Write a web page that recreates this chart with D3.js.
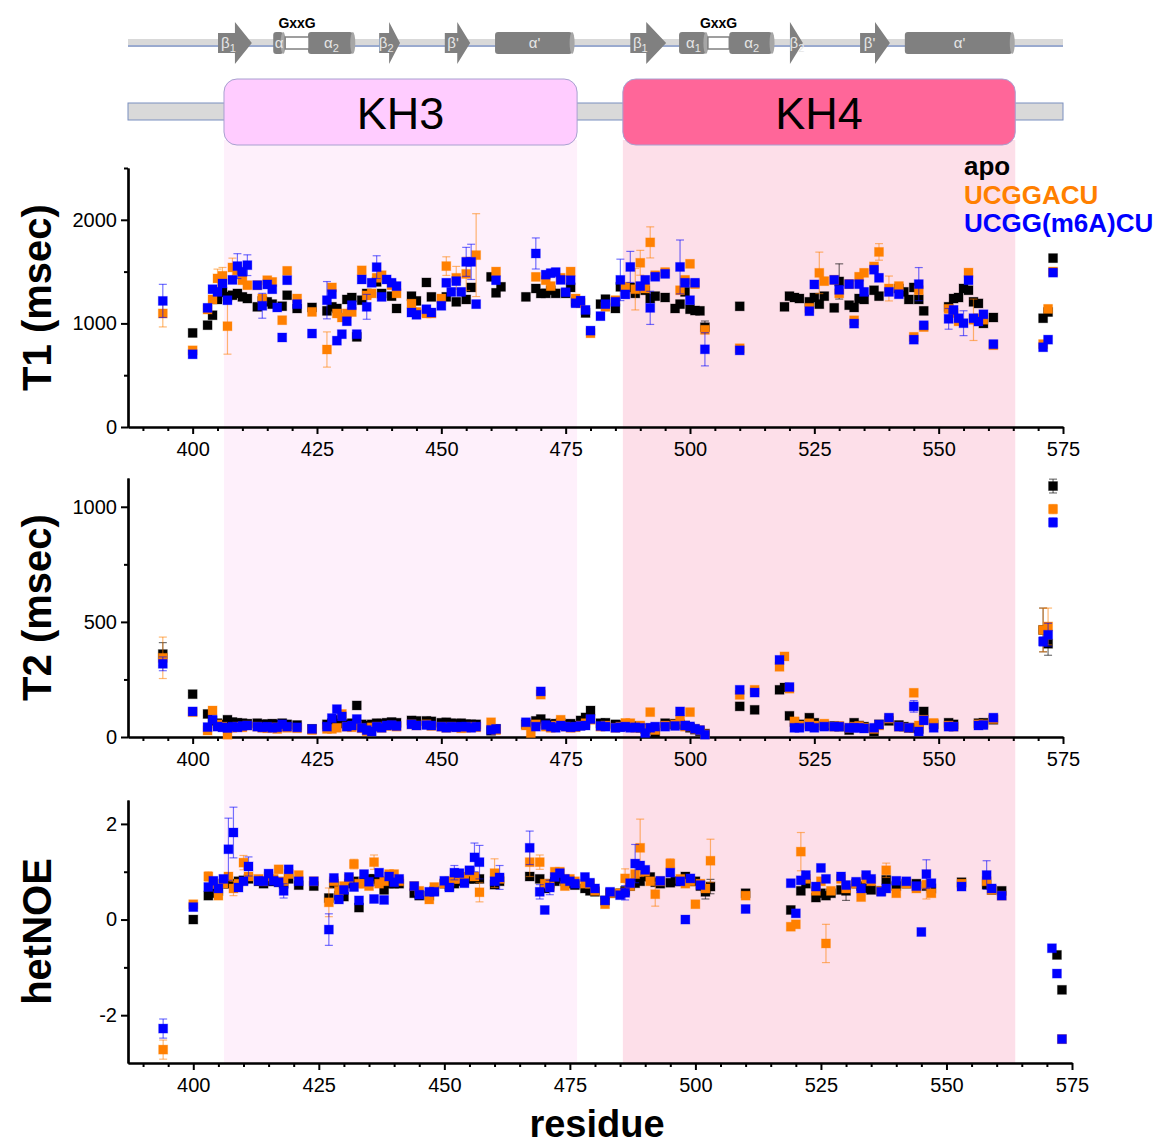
<!DOCTYPE html>
<html>
<head>
<meta charset="utf-8">
<script src="https://cdn.jsdelivr.net/npm/d3@7/dist/d3.min.js"></script>
<style>
  body { margin: 0; background: #fff; }
  text { font-family: "Liberation Sans", Arial, sans-serif; }
</style>
</head>
<body>
<svg id="chart" width="1166" height="1147"></svg>
<script>
// ---- data: [residue, value, error?] ----
var seriesNames = ['apo', 'UCGGACU', 'UCGG(m6A)CU'];
var seriesColors = ['#000000', '#ff8000', '#0000ff'];

var t1Apo = [[400,908],[403,983],[404,1079],[405,1231],[406,1300],[407,1260],[408,1272],[409,1289],[410,1256],[411,1240],[413,1160],[414,1217],[415,1208],[416,1186],[418,1166],[419,1272],[421,1144],[424,1154],[427,1121],[428,1160],[429,1144],[431,1231],[432,1250],[433,870],[434,1224],[435,1289],[437,1401],[438,1289],[440,1263],[441,1144],[444,1263],[445,1217],[447,1395],[448,1256],[451,1256],[453,1208],[455,1231],[456,1347],[460,1449],[461,1295],[462,1353],[467,1256],[469,1337],[470,1289],[471,1290],[472,1320],[473,1290],[475,1290],[476,1347],[477,1208],[479,1101],[482,1186],[483,1234],[485,1144],[486,1353],[488,1347],[489,1290],[491,1320],[492,1240],[493,1263],[495,1250],[497,1144],[498,1186],[499,1304],[500,1137],[501,1124],[502,1121],[503,963,60],[510,1165],[519,1160],[520,1263],[521,1250],[522,1240],[524,1208],[525,1250],[526,1186],[527,1263],[529,1150],[530,1405,170],[532,1176],[533,1154],[534,1240],[535,1231],[537,1320],[538,1263],[542,1337],[543,1304],[544,1231],[545,1347],[546,1231],[547,1121],[552,1160],[553,1240],[554,1250],[555,1337],[556,1320],[557,1208],[558,1193],[559,1000],[561,1057],[571,1050],[572,1110],[573,1630]];
var t1Ucg = [[394,1096,130],[400,740],[403,1134],[404,1231],[405,1434,90],[406,1460,80],[407,973,270],[408,1540,90],[409,1512],[410,1417],[411,1369],[413,1369],[414,1240],[415,1417],[416,1400],[418,1031],[419,1507],[421,1240],[424,1111],[427,748,170],[428,1347],[429,1096],[430,1057],[431,1096],[432,1110],[434,1512],[435,1270],[436,1290],[437,1440],[438,1465],[440,1369],[441,1290],[444,1190],[445,1110],[447,1096],[448,1096],[450,1240],[451,1553,90],[453,1440,110],[455,1478,160],[457,1659,400],[461,1500],[469,1449],[471,1417],[472,1360],[474,1440],[476,1500],[477,1240],[478,1195],[480,905],[483,1160],[485,1224],[487,1353],[489,1330,200],[490,1585,120],[491,1337],[492,1782,150],[493,1465],[495,1495],[498,1320],[499,1420],[500,1575],[501,1379],[503,938],[510,760],[524,1150],[526,1488,200],[527,1408],[529,1420],[530,1290],[532,1380],[533,1030],[534,1450],[535,1488],[537,1550],[538,1690,80],[540,1337,120],[542,1360],[545,870],[546,1320],[547,965],[552,1140],[553,1100],[554,1020],[556,1490],[557,1035,200],[558,1050],[559,1035],[561,790],[571,800],[572,1140],[573,1500]];
var t1M6a = [[394,1217,160],[400,702],[403,1150],[404,1330],[405,1304],[406,1385],[407,1224],[408,1420],[409,1553,120],[410,1498],[411,1562,100],[413,1369],[414,1170,120],[415,1376],[416,1330],[417,1154],[418,864],[419,1417],[421,1186],[424,902],[427,1224,180],[428,1282],[429,833],[430,896],[431,1021],[432,1176],[433,896],[434,1424],[435,1160,120],[436,1392],[437,1543,110],[438,1256],[439,1424],[440,1392],[441,1360],[444,1105],[445,1083],[447,1137],[448,1105],[450,1170],[451,1392],[452,1304],[453,1408],[454,1304],[455,1594,140],[456,1594,170],[457,1186],[461,1417],[469,1675,150],[471,1470],[472,1485],[473,1495],[474,1420],[475,1301],[476,1417],[477,1195],[478,1220],[479,1130],[480,930],[482,1070],[483,1186],[485,1208],[486,1420,200],[487,1280],[488,1545,150],[490,1360],[491,1420],[492,1150,160],[493,1450],[495,1478],[498,1545,260],[499,1392],[500,1224],[501,1392],[503,750,160],[510,740],[524,1118],[525,1376],[529,1420],[530,1324],[532,1379],[533,998],[534,1379],[535,1304],[537,1518],[538,1440],[540,1304],[542,1282],[545,843],[546,1379,160],[547,982],[552,1044,100],[553,1130],[554,1050],[555,1002,120],[556,1417],[557,1050],[558,1018],[559,1088],[561,800],[571,770],[572,843],[573,1490]];

var t2Apo = [[394,360,50],[400,186],[403,100],[404,70],[405,60],[406,55],[407,75],[408,65],[409,62],[410,60],[411,58],[413,60],[414,55],[415,56],[416,58],[417,55],[418,60],[419,55],[421,52],[424,35],[427,55],[428,60],[429,75],[430,58],[431,55],[432,60],[433,137],[434,55],[435,50],[436,55],[437,60],[438,58],[439,62],[440,65],[441,62],[444,72],[445,70],[447,70],[448,68],[450,62],[451,64],[452,60],[453,58],[454,60],[455,56],[456,55],[457,55],[460,27],[461,35],[467,55],[469,70],[470,78],[471,60],[472,55],[473,58],[474,62],[475,55],[476,58],[477,50],[478,72],[479,85],[480,115],[482,60],[483,62],[485,55],[486,52],[487,50],[488,45],[489,48],[490,40],[491,35],[492,38],[493,18],[495,60],[496,55],[497,58],[498,55],[499,50],[500,40],[501,32],[502,25],[503,15],[510,133],[513,118],[518,205],[519,215],[520,92],[521,65],[522,55],[524,84],[525,62],[527,50],[529,48],[530,45],[532,30],[533,62],[534,50],[535,45],[537,24],[538,55],[540,70],[542,52],[543,45],[544,40],[545,40],[546,35],[547,111],[549,55],[552,62],[553,55],[558,60],[559,62],[561,75],[571,465,95],[572,405,50],[573,1090,30]];
var t2Ucg = [[394,344,90],[400,108],[403,28],[404,115],[405,55],[406,45],[407,10],[408,40],[409,45],[410,42],[411,50],[413,45],[414,40],[415,38],[416,42],[417,35],[418,45],[419,40],[421,38],[424,30],[427,35],[428,35],[429,40],[430,100],[431,45],[432,42],[433,50],[434,38],[435,25],[436,42],[437,45],[438,40],[439,48],[440,50],[441,45],[444,55],[445,50],[447,55],[448,48],[450,45],[451,40],[452,45],[453,42],[454,38],[455,40],[456,45],[457,42],[460,64],[461,30],[467,50],[468,17],[469,55],[470,184],[471,45],[472,40],[473,50],[474,75],[475,45],[476,40],[477,42],[478,50],[479,60],[480,75],[482,45],[483,50],[485,40],[486,45],[487,61],[488,60],[489,40],[490,50],[491,35],[492,108],[493,30],[495,50],[497,55],[498,75],[499,45],[500,108],[501,35],[502,30],[503,12],[510,183],[513,205],[518,305],[519,350,15],[520,210],[521,68],[522,50],[524,60],[525,50],[527,58],[529,45],[530,48],[532,40],[533,45],[534,48],[535,40],[537,35],[538,50],[540,80],[542,45],[544,40],[545,192,15],[546,50],[547,75],[549,61],[552,50],[553,45],[558,55],[559,55],[561,78],[571,465,95],[572,480,80],[573,990,20]];
var t2M6a = [[394,318,30],[400,111],[403,43],[404,75],[405,45],[406,42],[407,39],[408,45],[409,42],[410,48],[411,50],[413,45],[414,42],[415,45],[416,40],[417,42],[418,55],[419,45],[421,42],[424,35],[427,45],[428,82],[429,121],[430,89],[431,45],[432,50],[433,78],[434,40],[435,30],[436,24],[437,45],[438,40],[439,50],[440,52],[441,48],[444,55],[445,50],[447,52],[448,50],[450,45],[451,40],[452,45],[453,42],[454,45],[455,45],[456,40],[457,45],[460,31],[461,35],[467,64],[469,45],[470,198],[471,52],[472,45],[473,40],[474,50],[475,45],[476,42],[477,45],[478,48],[479,50],[480,78],[482,48],[483,45],[485,40],[486,42],[487,45],[488,40],[489,42],[490,40],[491,17],[492,40],[493,45],[495,45],[497,48],[498,111],[499,50],[500,46],[501,36],[502,30],[503,10],[510,205],[513,193],[518,335],[520,217],[521,40],[522,40],[524,45],[525,40],[527,45],[529,45],[530,45],[532,40],[533,40],[534,40],[535,37],[537,40],[538,54],[540,84],[542,45],[544,40],[545,133,25],[546,24],[547,72],[549,40],[552,45],[553,45],[558,50],[559,52],[561,84],[571,415,20],[572,444,50],[573,932,20]];

var noeApo = [[400,0.0],[403,0.5],[404,0.55],[405,0.6],[406,0.75],[407,0.75],[408,0.75],[409,0.8],[410,0.82],[411,0.85],[413,0.8],[414,0.75],[415,0.8],[416,0.8],[417,0.78],[418,0.75],[419,0.85],[421,0.72],[424,0.7],[427,0.45],[428,0.75],[429,0.5],[430,0.48],[431,0.75],[432,0.8],[433,0.25],[434,0.8],[435,0.85],[436,0.85],[437,0.8],[438,0.62],[439,0.75],[440,0.75],[441,0.75],[444,0.55],[445,0.5],[447,0.5],[448,0.6],[450,0.75],[451,0.7],[452,0.75],[453,0.8],[454,0.82],[455,0.85],[456,0.85],[457,0.85],[460,0.73],[461,0.8],[467,0.9],[469,0.85],[470,0.65],[471,0.75],[472,0.8],[473,0.85],[474,0.8],[475,0.75],[476,0.72],[478,0.65],[479,0.6],[480,0.58],[482,0.4],[483,0.55],[485,0.55],[486,0.6],[487,0.7],[488,0.76],[489,0.8],[490,0.9],[491,0.89],[492,0.78],[493,0.75],[495,0.77],[496,0.8],[497,0.8],[498,0.9],[499,0.8],[500,0.8],[501,0.7],[502,0.58,0.15],[503,0.69,0.15],[510,0.55],[519,0.2],[521,0.6],[522,0.75],[524,0.46],[525,0.55],[526,0.5],[527,0.55],[529,0.62],[530,0.6,0.2],[532,0.75],[533,0.7],[534,0.65],[535,0.62],[537,0.6],[538,0.83],[540,0.7],[542,0.75],[544,0.75],[546,0.7],[547,0.65],[553,0.78],[558,0.73],[559,0.62],[561,0.6],[572,-0.74],[573,-1.47]];
var noeUcg = [[394,-2.72,0.2],[400,0.32],[403,0.9,0.1],[404,0.75],[405,0.5],[406,0.75],[407,0.9],[408,0.65,0.15],[409,0.75],[410,1.19,0.15],[411,0.9],[413,0.85],[414,0.8],[415,0.9],[416,0.85],[417,1.05],[418,0.8],[419,0.95],[421,0.93],[424,0.8],[427,0.36,0.3],[428,0.8],[429,0.6],[430,0.7],[431,0.85],[432,1.16,0.1],[433,0.75],[434,0.75],[435,0.7],[436,1.2,0.15],[437,0.75],[438,0.8],[439,0.95],[440,0.95],[441,0.8],[444,0.7],[445,0.6],[447,0.42],[448,0.68],[450,0.75],[451,0.8],[452,0.85],[453,0.85],[454,0.9],[455,1.0],[456,0.9],[457,0.57,0.2],[460,0.97,0.3],[461,0.85],[467,1.2,0.3],[469,1.2,0.15],[470,0.75],[471,0.7],[472,1.0],[473,1.0],[474,0.7],[475,0.85],[476,0.8],[478,0.75],[479,0.75],[480,0.6],[482,0.32],[483,0.55],[485,0.55],[486,0.86,0.2],[487,0.7],[488,0.95],[489,1.5,0.6],[490,1.0],[491,0.8],[492,0.53,0.25],[493,0.8],[495,1.17,0.1],[497,0.85],[498,0.75],[499,0.8],[500,0.32],[501,0.75],[502,0.65],[503,1.23,0.45],[510,0.5],[519,-0.15],[520,-0.1],[521,1.42,0.4],[522,0.85],[524,0.6],[525,0.8],[526,-0.5,0.4],[527,0.6],[529,0.85],[530,0.65],[532,0.75],[533,0.47],[534,0.85],[535,0.8],[537,0.6],[538,1.03,0.15],[540,0.55],[542,0.75],[544,0.65],[546,0.73,0.3],[547,0.55],[553,0.75],[558,0.8],[559,0.62],[561,0.5],[573,-2.5]];
var noeM6a = [[394,-2.28,0.2],[400,0.26],[403,0.68],[404,0.81],[405,0.65],[406,0.85],[407,1.47,0.65],[408,1.82,0.53],[409,0.67],[410,0.8],[411,1.11,0.2],[413,0.81],[414,0.8],[415,0.96],[416,0.81],[417,0.78],[418,0.6,0.15],[419,1.05],[421,0.8],[424,0.8],[427,-0.21,0.33],[428,0.87],[429,0.42],[430,0.62],[431,0.89],[432,0.68],[433,0.4],[434,0.95],[435,0.79],[436,0.43],[437,0.98],[438,0.41],[439,0.9],[440,0.78],[441,0.85],[444,0.7],[445,0.52],[447,0.58],[448,0.58],[450,0.81],[451,0.67],[452,0.98,0.15],[453,0.97],[454,0.76],[455,1.03],[456,1.3,0.3],[457,1.2,0.35],[460,0.8],[461,0.88,0.25],[467,1.5,0.35],[469,0.58,0.15],[470,0.2],[471,0.67,0.15],[472,0.89],[473,0.97],[474,0.85],[475,0.8],[476,0.75],[478,0.89],[479,0.77],[480,0.65],[482,0.4],[483,0.58],[485,0.51],[486,0.56,0.15],[487,0.76],[488,1.17,0.4],[489,1.13],[490,1.04],[493,0.81],[495,0.98],[497,0.8],[498,0.0,0.08],[499,0.86],[501,0.72],[510,0.22],[519,0.76],[520,0.13],[521,0.82],[522,0.93],[524,0.69],[525,1.08],[526,0.85],[529,0.9],[530,0.72],[532,0.79],[533,0.65],[534,0.93],[535,0.85],[537,0.58],[538,0.65],[540,0.81],[542,0.8],[544,0.7],[545,-0.26],[546,0.95,0.3],[547,0.76],[553,0.69],[558,0.93,0.3],[559,0.65],[561,0.5],[571,-0.6],[572,-1.13],[573,-2.5]];

// domain boxes and secondary structure (residue units)
var domains = [
    { name: 'KH3', start: 406.3, end: 477.3, fill: '#ffccff', shade: '#fef0fb' },
    { name: 'KH4', start: 486.5, end: 565.4, fill: '#ff6699', shade: '#fddfe9' }
];
var strands = [
    { label: 'β', sub: '1', start: 405.1, head: 408.5, end: 411.9 },
    { label: 'β', sub: '2', start: 437.5, head: 439.5, end: 441.7 },
    { label: 'β\'', sub: '', start: 450.7, head: 453.2, end: 455.8 },
    { label: 'β', sub: '1', start: 488.0, head: 491.2, end: 495.2 },
    { label: 'β', sub: '2', start: 520.1, head: 520.1, end: 522.7 },
    { label: 'β\'', sub: '', start: 534.2, head: 537.2, end: 540.2 }
];
var helices = [
    { label: 'α', sub: '', start: 416.2, end: 418.6 },
    { label: 'α', sub: '2', start: 423.2, end: 432.6 },
    { label: 'α\'', sub: '', start: 460.8, end: 476.7 },
    { label: 'α', sub: '1', start: 497.8, end: 503.6 },
    { label: 'α', sub: '2', start: 507.9, end: 516.9 },
    { label: 'α\'', sub: '', start: 543.2, end: 565.2 }
];
var loops = [
    { label: 'GxxG', start: 418.6, end: 423.4 },
    { label: 'GxxG', start: 503.6, end: 507.9 }
];

var xMajor = [400, 425, 450, 475, 500, 525, 550, 575];
var xMinor = d3.range(390, 576, 5).filter(function(d) { return d % 25 !== 0; });

var panels = [
    { title: 'T1 (msec)', top: 168, bottom: 427, domain: [0, 2500], major: [0, 1000, 2000], minor: [500, 1500, 2500], right: 1063, err: 35, data: [t1Apo, t1Ucg, t1M6a] },
    { title: 'T2 (msec)', top: 478, bottom: 737, domain: [0, 1125], major: [0, 500, 1000], minor: [250, 750], right: 1063, err: 7, data: [t2Apo, t2Ucg, t2M6a] },
    { title: 'hetNOE', top: 800, bottom: 1063, domain: [-3, 2.5], major: [-2, 0, 2], minor: [-1, 1], right: 1072, err: 0.06, data: [noeApo, noeUcg, noeM6a] }
];

var svg = d3.select('#chart');
var xTop = d3.scaleLinear().domain([387, 575]).range([128, 1063]);

// background shading of the domains
domains.forEach(function(d) {
    svg.append('rect')
        .attr('x', xTop(d.start)).attr('y', 140)
        .attr('width', xTop(d.end) - xTop(d.start)).attr('height', 1063 - 140)
        .attr('fill', d.shade);
});

// ---- domain diagram ----
var diag = svg.append('g');
diag.append('rect').attr('x', 128).attr('y', 39).attr('width', 935).attr('height', 8).attr('fill', '#d9d9d9');
diag.append('line').attr('x1', 128).attr('x2', 1063).attr('y1', 46).attr('y2', 46).attr('stroke', '#5a7bc4').attr('stroke-width', 1);

diag.append('rect').attr('x', 128).attr('y', 103).attr('width', 935).attr('height', 17)
    .attr('fill', '#d9d9d9').attr('stroke', '#7b8fbf').attr('stroke-width', 1);

domains.forEach(function(d) {
    var x0 = xTop(d.start), x1 = xTop(d.end);
    diag.append('rect').attr('x', x0).attr('y', 79).attr('width', x1 - x0).attr('height', 66)
        .attr('rx', 13).attr('fill', d.fill).attr('stroke', '#a8a0d0').attr('stroke-width', 1);
    diag.append('text').attr('x', (x0 + x1) / 2).attr('y', 129)
        .attr('text-anchor', 'middle').attr('font-size', 45).attr('fill', '#000').text(d.name);
});

var cy = 43;
function addLabel(x, label, sub) {
    var t = diag.append('text').attr('x', x).attr('y', cy + 5).attr('text-anchor', 'middle')
        .attr('font-size', 15).attr('fill', '#e6e6e6').text(label);
    if (sub) {
        t.append('tspan').attr('font-size', 11).attr('dy', 4).text(sub);
    }
}

strands.forEach(function(s) {
    var a = xTop(s.start), h = xTop(s.head), b = xTop(s.end);
    var pts = [[a, cy - 10], [h, cy - 10], [h, cy - 21], [b, cy], [h, cy + 21], [h, cy + 10], [a, cy + 10]];
    diag.append('path').attr('d', d3.line()(pts) + 'Z').attr('fill', '#808080');
    addLabel((a + Math.max(h, a + 10)) / 2 + 2, s.label, s.sub);
});

helices.forEach(function(s) {
    var a = xTop(s.start), b = xTop(s.end);
    diag.append('rect').attr('x', a).attr('y', cy - 11).attr('width', b - a - 2).attr('height', 22)
        .attr('rx', 3).attr('fill', '#808080');
    diag.append('ellipse').attr('cx', b - 2).attr('cy', cy).attr('rx', 2.5).attr('ry', 11).attr('fill', '#a6a6a6');
    addLabel((a + b) / 2, s.label, s.sub);
});

loops.forEach(function(s) {
    var a = xTop(s.start), b = xTop(s.end);
    diag.append('rect').attr('x', a).attr('y', cy - 6).attr('width', b - a).attr('height', 12)
        .attr('fill', '#fff').attr('stroke', '#808080').attr('stroke-width', 1.5);
    diag.append('text').attr('x', (a + b) / 2).attr('y', 28).attr('text-anchor', 'middle')
        .attr('font-size', 14).attr('font-weight', 'bold').attr('fill', '#000').text(s.label);
});

// ---- panels ----
panels.forEach(function(p) {
    var x = d3.scaleLinear().domain([387, 575]).range([128, p.right]);
    var y = d3.scaleLinear().domain(p.domain).range([p.bottom, p.top]);
    var g = svg.append('g');

    // x axis
    var xa = g.append('g').attr('transform', 'translate(0,' + p.bottom + ')');
    xa.call(d3.axisBottom(x).tickValues(xMajor).tickSize(7).tickSizeOuter(0).tickPadding(8));
    xa.append('g').call(d3.axisBottom(x).tickValues(xMinor).tickSize(4).tickSizeOuter(0).tickFormat(''));

    // y axis, plain number labels (no thousands separator, hyphen minus)
    var ya = g.append('g').attr('transform', 'translate(128,0)');
    ya.call(d3.axisLeft(y).tickValues(p.major).tickSize(7).tickSizeOuter(0).tickPadding(4)
        .tickFormat(function(d) { return String(d); }));
    ya.append('g').call(d3.axisLeft(y).tickValues(p.minor).tickSize(4).tickSizeOuter(0).tickFormat(''));

    g.selectAll('.domain').attr('stroke', '#000').attr('stroke-width', 2.2);
    g.selectAll('.tick line').attr('stroke', '#000').attr('stroke-width', 2);
    g.selectAll('.tick text').attr('font-size', 20).attr('fill', '#000')
        .style('font-family', '"Liberation Sans", Arial, sans-serif');

    // title
    g.append('text')
        .attr('transform', 'translate(51,' + (p.top + p.bottom) / 2 + ') rotate(-90)')
        .attr('text-anchor', 'middle').attr('font-size', 40).attr('font-weight', 'bold')
        .text(p.title);

    // series: black, orange, blue on top
    p.data.forEach(function(rows, si) {
        var color = seriesColors[si];
        var s = g.append('g');
        rows.forEach(function(r) {
            var cx = x(r[0]), vy = y(r[1]);
            var e = r.length > 2 ? r[2] : p.err;
            var y0 = y(r[1] - e), y1 = y(r[1] + e);
            s.append('line').attr('x1', cx).attr('x2', cx).attr('y1', y0).attr('y2', y1)
                .attr('stroke', color).attr('stroke-opacity', 0.55).attr('stroke-width', 1.2);
            [y0, y1].forEach(function(yy) {
                s.append('line').attr('x1', cx - 4).attr('x2', cx + 4).attr('y1', yy).attr('y2', yy)
                    .attr('stroke', color).attr('stroke-opacity', 0.55).attr('stroke-width', 1.2);
            });
            s.append('rect').attr('x', cx - 4.5).attr('y', vy - 4.5).attr('width', 9).attr('height', 9)
                .attr('fill', color).attr('stroke', color).attr('stroke-opacity', 0.3).attr('stroke-width', 1);
        });
    });
});

// x title
svg.append('text').attr('x', 597).attr('y', 1137).attr('text-anchor', 'middle')
    .attr('font-size', 38).attr('font-weight', 'bold').text('residue');

// legend
var legend = svg.append('g');
seriesNames.forEach(function(n, i) {
    legend.append('text').attr('x', 964).attr('y', 175 + i * 28.5)
        .attr('font-size', 26).attr('font-weight', 'bold').attr('fill', seriesColors[i]).text(n);
});
</script>
</body>
</html>
